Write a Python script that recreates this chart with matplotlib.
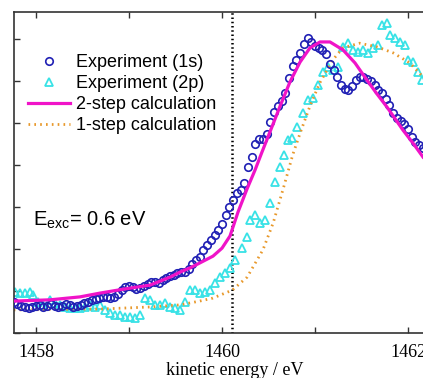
import matplotlib
matplotlib.use("Agg")
import matplotlib.pyplot as plt
from matplotlib.ticker import MultipleLocator

# ---- measured spectra -------------------------------------------------------
# 1s-excited experiment (kinetic energy in eV, intensity in arb. units)
energy_1s = [
    1457.76, 1457.80, 1457.84, 1457.88, 1457.92, 1457.96, 1458.00, 1458.04, 1458.08, 1458.12,
    1458.16, 1458.20, 1458.24, 1458.28, 1458.32, 1458.36, 1458.40, 1458.44, 1458.48, 1458.52,
    1458.56, 1458.60, 1458.64, 1458.68, 1458.72, 1458.76, 1458.80, 1458.84, 1458.88, 1458.92,
    1458.96, 1459.00, 1459.04, 1459.08, 1459.12, 1459.16, 1459.20, 1459.24, 1459.28, 1459.32,
    1459.36, 1459.40, 1459.44, 1459.48, 1459.52, 1459.56, 1459.60, 1459.64, 1459.68, 1459.72,
    1459.76, 1459.80, 1459.84, 1459.88, 1459.92, 1459.96, 1460.00, 1460.04, 1460.08, 1460.12,
    1460.16, 1460.20, 1460.24, 1460.28, 1460.32, 1460.36, 1460.40, 1460.44, 1460.48, 1460.52,
    1460.56, 1460.60, 1460.64, 1460.68, 1460.72, 1460.76, 1460.80, 1460.84, 1460.88, 1460.92,
    1460.96, 1461.00, 1461.04, 1461.08, 1461.12, 1461.16, 1461.20, 1461.24, 1461.28, 1461.32,
    1461.36, 1461.40, 1461.44, 1461.48, 1461.52, 1461.56, 1461.60, 1461.64, 1461.68, 1461.72,
    1461.76, 1461.80, 1461.84, 1461.88, 1461.92, 1461.96, 1462.00, 1462.04, 1462.08, 1462.12,
    1462.16,
]
intensity_1s = [
    0.74, 0.69, 0.64, 0.62, 0.60, 0.62, 0.64, 0.67, 0.62, 0.64,
    0.69, 0.64, 0.62, 0.64, 0.69, 0.67, 0.62, 0.64, 0.67, 0.71,
    0.74, 0.79, 0.81, 0.83, 0.86, 0.86, 0.83, 0.86, 0.93, 1.02,
    1.10, 1.12, 1.10, 1.05, 1.07, 1.12, 1.17, 1.21, 1.21, 1.19,
    1.26, 1.31, 1.36, 1.38, 1.43, 1.45, 1.45, 1.52, 1.64, 1.74,
    1.81, 1.98, 2.10, 2.21, 2.33, 2.45, 2.60, 2.81, 3.00, 3.17,
    3.33, 3.40, 3.57, 3.95, 4.19, 4.50, 4.62, 4.62, 4.74, 5.02,
    5.26, 5.40, 5.52, 5.71, 6.07, 6.36, 6.50, 6.67, 6.88, 7.02,
    6.93, 6.83, 6.79, 6.74, 6.64, 6.40, 6.26, 6.10, 5.90, 5.81,
    5.79, 5.88, 6.02, 6.10, 6.10, 6.05, 6.00, 5.90, 5.79, 5.71,
    5.57, 5.43, 5.24, 5.12, 5.05, 4.98, 4.86, 4.67, 4.55, 4.48,
    4.40,
]

# 2p-excited experiment
energy_2p = [
    1457.774, 1457.828, 1457.882, 1457.935, 1457.968, 1458.022, 1458.075, 1458.151, 1458.204, 1458.258,
    1458.312, 1458.366, 1458.419, 1458.473, 1458.527, 1458.581, 1458.634, 1458.688, 1458.742, 1458.796,
    1458.849, 1458.903, 1458.957, 1459.011, 1459.065, 1459.118, 1459.172, 1459.226, 1459.280, 1459.333,
    1459.387, 1459.441, 1459.495, 1459.548, 1459.602, 1459.656, 1459.710, 1459.763, 1459.817, 1459.871,
    1459.925, 1459.978, 1460.032, 1460.086, 1460.140, 1460.215, 1460.269, 1460.301, 1460.355, 1460.409,
    1460.462, 1460.516, 1460.570, 1460.624, 1460.667, 1460.710, 1460.753, 1460.806, 1460.871, 1460.925,
    1460.978, 1461.032, 1461.086, 1461.140, 1461.194, 1461.247, 1461.301, 1461.355, 1461.409, 1461.462,
    1461.516, 1461.570, 1461.624, 1461.677, 1461.720, 1461.774, 1461.806, 1461.860, 1461.914, 1461.968,
    1462.000, 1462.054, 1462.108, 1462.151,
]
intensity_2p = [
    0.98, 0.95, 0.95, 0.98, 0.90, 0.74, 0.67, 0.79, 0.71, 0.67,
    0.62, 0.60, 0.60, 0.60, 0.62, 0.67, 0.62, 0.67, 0.55, 0.48,
    0.43, 0.43, 0.38, 0.38, 0.36, 0.43, 0.83, 0.79, 0.67, 0.67,
    0.71, 0.62, 0.60, 0.55, 0.74, 1.02, 1.02, 0.95, 0.98, 1.02,
    1.19, 1.33, 1.43, 1.55, 1.74, 2.02, 2.29, 2.69, 2.81, 2.62,
    2.69, 3.10, 3.60, 3.95, 4.24, 4.60, 4.64, 4.90, 5.24, 5.55,
    5.60, 5.90, 6.21, 6.33, 6.26, 6.33, 6.81, 6.90, 6.74, 6.69,
    6.74, 6.67, 6.79, 6.86, 7.33, 7.38, 7.10, 7.02, 6.93, 6.86,
    6.50, 6.45, 6.21, 6.02,
]

# ---- calculations -----------------------------------------------------------
energy_2step = [
    1457.763, 1458.151, 1458.473, 1458.688, 1458.957, 1459.226, 1459.441, 1459.548,
    1459.656, 1459.763, 1459.903, 1460.000, 1460.086, 1460.172, 1460.269, 1460.355,
    1460.430, 1460.516, 1460.624, 1460.731, 1460.839, 1460.946, 1461.054, 1461.161,
    1461.301, 1461.430, 1461.559, 1461.667, 1461.774, 1461.946, 1462.054, 1462.161,
]
intensity_2step = [
    0.76, 0.79, 0.86, 0.95, 1.05, 1.14, 1.33, 1.45,
    1.55, 1.67, 1.83, 2.02, 2.31, 2.88, 3.43, 3.88,
    4.31, 4.79, 5.40, 5.98, 6.45, 6.79, 6.93, 6.93,
    6.74, 6.43, 6.02, 5.69, 5.38, 4.83, 4.52, 4.19,
]

energy_1step = [
    1457.76, 1458.69, 1459.23, 1459.55, 1459.76, 1459.90, 1460.11, 1460.27, 1460.44, 1460.55,
    1460.66, 1460.76, 1460.84, 1460.95, 1461.05, 1461.19, 1461.30, 1461.48, 1461.67, 1461.84,
    1462.02, 1462.16,
]
intensity_1step = [
    0.55, 0.57, 0.62, 0.67, 0.76, 0.83, 1.02, 1.33, 1.98, 2.62,
    3.45, 4.24, 4.76, 5.43, 5.95, 6.50, 6.79, 6.90, 6.81, 6.67,
    6.43, 6.10,
]

excitation_energy_marker = 1460.11
x_ticks = [1458, 1460, 1462]
x_tick_labels = ["1458", "1460", "1462"]

# ---- figure -----------------------------------------------------------------
plt.rcParams["mathtext.fontset"] = "custom"
plt.rcParams["mathtext.rm"] = "Liberation Sans"
plt.rcParams["mathtext.it"] = "Liberation Sans"

W, H = 423, 378
fig = plt.figure(figsize=(W / 100, H / 100), dpi=100)
ax = fig.add_axes([14 / W, 45 / H, 440.5 / W, 321 / H])

ax.plot(energy_1s, intensity_1s, linestyle="none", marker="o", markersize=5.4,
        markerfacecolor="none", markeredgecolor="#2020b4", markeredgewidth=1.2,
        label="Experiment (1s)", zorder=3)
ax.plot(energy_2p, intensity_2p, linestyle="none", marker="^", markersize=6.4,
        markerfacecolor="none", markeredgecolor="#38e2e6", markeredgewidth=1.3,
        label="Experiment (2p)", zorder=2)
ax.plot(energy_2step, intensity_2step, color="#f013c8", linewidth=2.3,
        label="2-step calculation", zorder=4)
ax.plot(energy_1step, intensity_1step, color="#e8982a", linewidth=2.0,
        linestyle=(0, (0.6, 1.5)), label="1-step calculation", zorder=2)

ax.axvline(excitation_energy_marker, color="black", linewidth=1.8,
           linestyle=(0, (0.6, 1.1)), zorder=1)

ax.set_xlim(1457.763, 1462.5)
ax.set_ylim(0, 7.643)

ax.set_xticks(x_ticks)
ax.set_xticklabels(x_tick_labels, fontfamily="Liberation Serif", fontsize=13)
ax.xaxis.set_minor_locator(MultipleLocator(1))
ax.yaxis.set_major_locator(MultipleLocator(1))
ax.set_yticklabels([])
ax.tick_params(which="both", direction="in", top=True, right=False,
               length=4, width=1.0, color="#333333", pad=8)
ax.tick_params(axis="y", labelleft=False)

for side in ["left", "bottom", "top"]:
    ax.spines[side].set_linewidth(1.2)
    ax.spines[side].set_color("#333333")
ax.spines["right"].set_visible(False)

ax.set_xlabel("kinetic energy / eV", fontfamily="Liberation Serif", fontsize=13,
              labelpad=0.5)

ax.text(1457.968, 2.55, r"E$_\mathrm{exc}$= 0.6 eV", fontfamily="Liberation Sans",
        fontsize=14.5, va="baseline", ha="left")

leg = ax.legend(loc="upper left", bbox_to_anchor=(28 / W, 1 - 54 / H),
                bbox_transform=fig.transFigure, frameon=False, borderpad=0,
                borderaxespad=0, handlelength=2.3, handletextpad=0.35,
                labelspacing=0.22, prop={"family": "Liberation Sans", "size": 13})

fig.savefig("out.png", dpi=100)
